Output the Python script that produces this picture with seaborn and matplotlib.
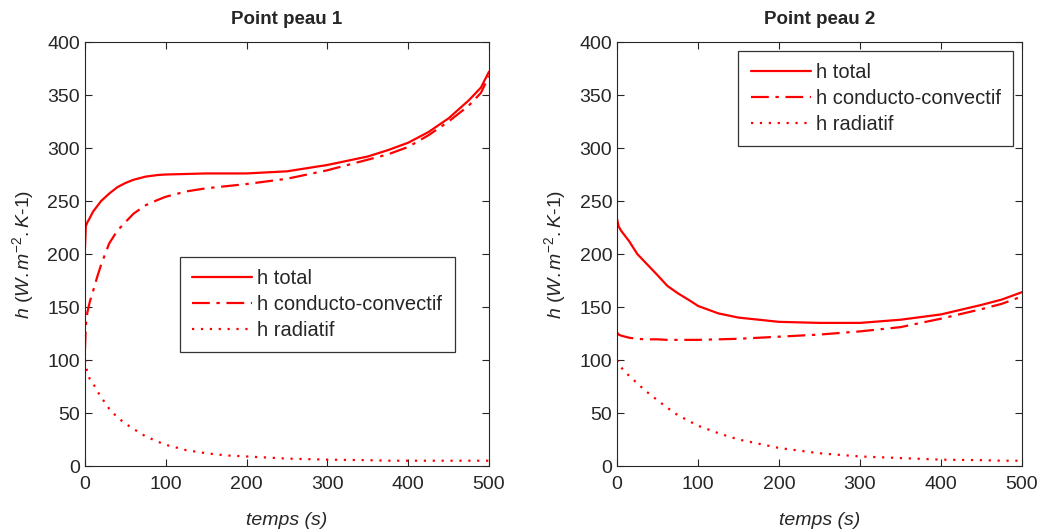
import pandas as pd
import seaborn as sns
import matplotlib.pyplot as plt

# temps (s)
t1 = [0, 1, 3, 6, 10, 15, 20, 30, 40, 50, 60, 75, 90, 100, 125, 150, 175, 200,
      250, 300, 350, 375, 400, 425, 450, 475, 490, 500]
total1 = [205, 226, 230, 234, 240, 245, 250, 257, 263, 267, 270, 273, 274.5, 275, 275.5,
          276, 276, 276, 278, 284, 292, 298, 305, 315, 328, 345, 357, 372]
conv1 = [110, 132, 145, 155, 165, 178, 190, 210, 222, 230, 238, 246, 251, 254, 259,
         262, 264, 266, 271, 279, 289, 294, 301, 312, 325, 340, 352, 368]
rad1 = [100, 95, 88, 82, 78, 71, 65, 54, 46, 40, 35, 28, 23, 20, 15, 12, 10, 9,
        7, 6, 5.5, 5, 5, 5, 5, 5, 5, 5]

t2 = [0, 2, 5, 10, 15, 25, 35, 50, 62, 75, 90, 100, 125, 150, 175, 200, 250, 300,
      350, 400, 450, 475, 500]
total2 = [233, 226, 222, 217, 212, 200, 192, 180, 170, 163, 156, 151, 144, 140, 138,
          136, 135, 135, 138, 143, 152, 157, 164]
conv2 = [126, 124, 123, 122, 121, 120, 119.5, 119.5, 119, 119, 119, 119, 119.5, 120, 121,
         122, 124, 127, 131, 139, 148, 153, 160]
rad2 = [100, 96, 93, 89, 85, 78, 71, 62, 55, 48, 42, 38, 31, 25, 21, 17, 12, 9,
        7.5, 6, 5.5, 5, 5]

labels = ['h total', 'h conducto-convectif', 'h radiatif']
titles = ['Point peau 1', 'Point peau 2']

sns.set_style('ticks')
plt.rcParams['font.family'] = ['Liberation Sans', 'DejaVu Sans']
plt.rcParams['mathtext.fontset'] = 'custom'
plt.rcParams['mathtext.it'] = 'Liberation Sans:italic'
plt.rcParams['mathtext.rm'] = 'Liberation Sans'

fig = plt.figure(figsize=(10.4, 5.31), dpi=100)
ax1 = fig.add_axes([0.0817, 0.1224, 0.3885, 0.7985])
ax2 = fig.add_axes([0.5933, 0.1224, 0.3894, 0.7985])

styles = ['-', (0, (8, 3, 1.5, 3)), (0, (1, 3))]
data = [(t1, [total1, conv1, rad1]), (t2, [total2, conv2, rad2])]

for ax, (t, series), title in zip([ax1, ax2], data, titles):
    for y, lab, ls in zip(series, labels, styles):
        sns.lineplot(x=t, y=y, ax=ax, color='#ff0000', linewidth=1.6,
                     linestyle=ls, label=lab)
    ax.set_xlim(0, 500)
    ax.set_ylim(0, 400)
    ax.set_xticks(range(0, 501, 100))
    ax.set_yticks(range(0, 401, 50))
    ax.tick_params(direction='in', top=True, right=True, labelsize=14, length=5)
    ax.tick_params(axis='x', pad=7)
    ax.set_title(title, fontsize=13.5, fontweight='bold', pad=13)
    ax.set_xlabel('temps (s)', fontsize=14, style='italic', labelpad=14)
    ax.set_ylabel('$h\\ (W.m^{-2}.K\\text{-}1)$', fontsize=14, labelpad=8)
    for sp in ax.spines.values():
        sp.set_linewidth(0.8)

leg_kw = dict(fontsize=14.5, frameon=True, fancybox=False, edgecolor='black',
              handlelength=3.0, handletextpad=0.25, labelspacing=0.35,
              borderpad=0.6, borderaxespad=0)
l1 = ax1.legend(loc='center left', bbox_to_anchor=(0.235, 0.381), **leg_kw)
l2 = ax2.legend(loc='upper right', bbox_to_anchor=(0.978, 0.979), **leg_kw)
for lg in (l1, l2):
    lg.get_frame().set_linewidth(0.9)

plt.savefig('out.png', dpi=100)
